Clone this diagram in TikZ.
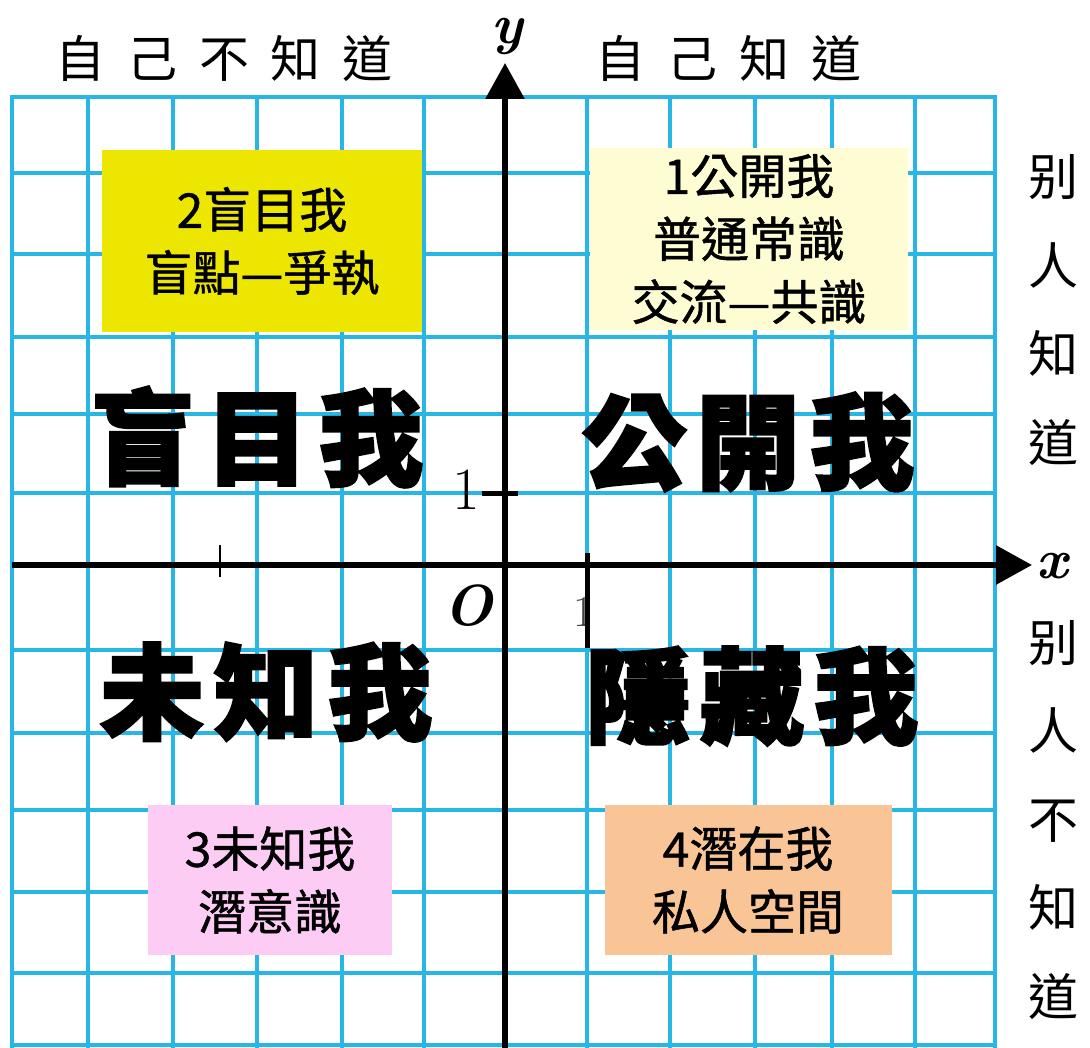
\documentclass[tikz,border=0pt]{standalone}
\usepackage{fontspec}
\usetikzlibrary{arrows.meta}
\newfontfamily\cjk{Noto Sans CJK TC}
\newfontfamily\cjkbox{Noto Sans CJK TC}[FakeBold=1]
\newfontfamily\cjkheavy{Noto Sans CJK TC}[FakeBold=2.5]
\newcommand\hgap{\kern22pt}
\newcommand\bgap{\kern10pt}
\definecolor{gridc}{RGB}{40,182,228}
\definecolor{yellowc}{RGB}{236,230,0}
\definecolor{lightyc}{RGB}{254,252,210}
\definecolor{pinkc}{RGB}{252,204,245}
\definecolor{orangec}{RGB}{249,197,150}
\tikzset{
  gridline/.style={draw=gridc, line width=4.5pt},
  axisline/.style={draw=black, line width=6pt, -{Triangle[length=36pt,width=38pt]}},
  tickline/.style={draw=black, line width=5pt},
  infobox/.style={inner sep=0pt, align=center, minimum width=#1,
     font=\cjkbox\fontsize{48}{63}\selectfont},
  bigword/.style={inner sep=0pt, font=\cjkheavy\bfseries\fontsize{104}{104}\selectfont},
  heading/.style={inner sep=0pt, font=\cjk\fontsize{50}{50}\selectfont},
  sidetext/.style={inner sep=0pt, align=center, font=\cjk\fontsize{50}{88.5}\selectfont},
  axlabel/.style={inner sep=0pt, font=\bfseries\itshape\fontsize{56}{56}\selectfont},
}
\begin{document}
\begin{tikzpicture}[x=1pt,y=-1pt]
\useasboundingbox (0,0) rectangle (1090,1048);
\fill[white] (0,0) rectangle (1090,1048);
% grid
\foreach \gx in {12,88,173,257,342,424,505,587,670,755,832,915,995}
  \draw[gridline] (\gx,97) -- (\gx,1048);
\foreach \gy in {97,173,254,337,414,493,565,650,733,810,892,973,1045}
  \draw[gridline] (10,\gy) -- (997,\gy);
% boxes
\node[infobox=320pt, minimum height=182pt, fill=yellowc] (blind) at (262,241)
  {2盲目我\\盲點—爭執};
\node[infobox=318pt, minimum height=182pt, fill=lightyc] (open) at (749,239)
  {1公開我\\普通常識\\交流—共識};
\node[infobox=244pt, minimum height=150pt, fill=pinkc] (unknown) at (270,880)
  {3未知我\\潛意識};
\node[infobox=287pt, minimum height=150pt, fill=orangec] (hidden) at (748,880)
  {4潛在我\\私人空間};
% big words
\node[bigword] (bigblind) at (257,437) {盲\bgap 目\bgap 我};
\node[bigword] (bigopen) at (748,442) {公\bgap 開\bgap 我};
\node[bigword] (bigunknown) at (266,692) {未\bgap 知\bgap 我};
\node[bigword] (bighidden) at (752,696) {隱\bgap 藏\bgap 我};
% headings
\node[heading] (hleft) at (224,59) {自\hgap 己\hgap 不\hgap 知\hgap 道};
\node[heading] (hright) at (728,59) {自\hgap 己\hgap 知\hgap 道};
\node[sidetext] (sidetop) at (1053,310) {别\\人\\知\\道};
\node[sidetext] (sidebot) at (1053,820) {别\\人\\不\\知\\道};
% axis labels
\node[inner sep=0pt, font=\fontsize{60}{60}\selectfont] (one) at (466,490) {1};
\node[inner sep=0pt, font=\fontsize{44}{44}\selectfont, text=black!75] (onex) at (584,612) {1};
\node[inner sep=0pt, font=\bfseries\itshape\fontsize{58}{58}\selectfont] (orig) at (468,606) {O};
% axes
\coordinate (xs) at (12,565);
\coordinate (xe) at (1032,565);
\coordinate (ys) at (505,1048);
\coordinate (ye) at (505,63);
\draw[axisline] (xs) -- (xe);
\draw[axisline] (ys) -- (ye);
\node[axlabel, anchor=west] (xlab) at (1036,566) {x};
\node[axlabel] (ylab) at (507,37) {y};
% ticks
\coordinate (tya) at (482,493);
\coordinate (tyb) at (518,493);
\draw[tickline] (tya) -- (tyb);
\coordinate (txa) at (587,553);
\coordinate (txb) at (587,648);
\draw[tickline] (txa) -- (txb);
\coordinate (tna) at (220,545);
\coordinate (tnb) at (220,577);
\draw[draw=black, line width=2.5pt] (tna) -- (tnb);
\end{tikzpicture}
\end{document}
